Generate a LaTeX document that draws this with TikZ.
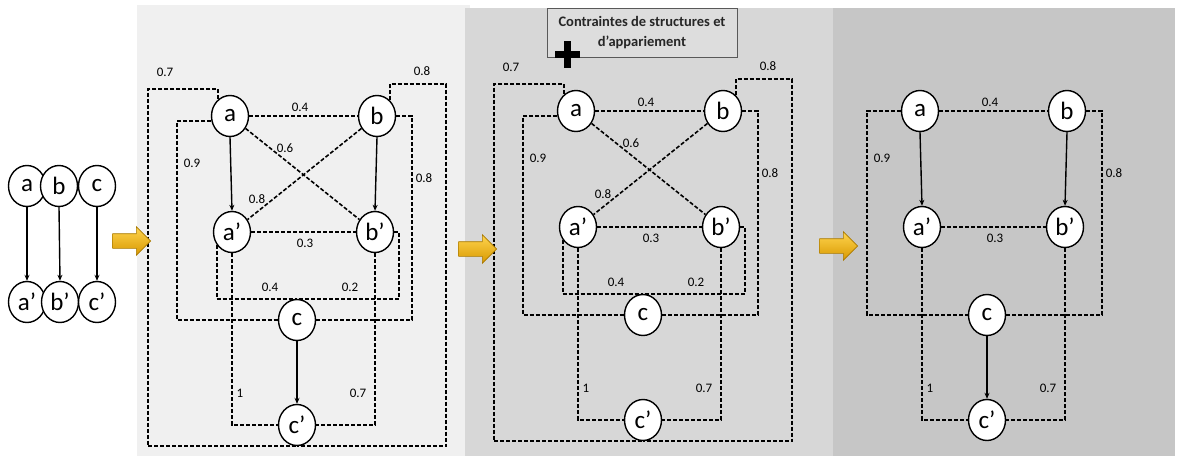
\documentclass[tikz,border=0pt]{standalone}
\usepackage{fontspec}
\setmainfont{Carlito}
\usetikzlibrary{arrows.meta,shapes.geometric,shapes.arrows}
\definecolor{bgtwo}{HTML}{F0F0F0}
\definecolor{bgthree}{HTML}{D7D7D7}
\definecolor{bgfour}{HTML}{C6C6C6}
\definecolor{hdrfill}{HTML}{DDDDDD}
\definecolor{goldtop}{HTML}{FFD54F}
\definecolor{goldbot}{HTML}{D89800}
\definecolor{goldedge}{HTML}{A87800}
\tikzset{
 vx/.style={draw=black,line width=1.4pt,fill=white,ellipse,minimum width=37pt,minimum height=41pt,inner sep=0pt,font=\fontsize{25}{25}\selectfont},
 dl/.style={draw=black,line width=1.6pt,dash pattern=on 4pt off 2pt},
 sl/.style={draw=black,line width=1.4pt,-{Stealth[length=6pt,width=5pt]}},
 lbl/.style={inner sep=0pt,font=\fontsize{13}{13}\selectfont},
 goldarrow/.style={single arrow,minimum height=38pt,minimum width=28pt,single arrow head extend=7pt,inner xsep=0pt,inner ysep=7pt,top color=goldtop,bottom color=goldbot,draw=goldedge,line width=0.6pt},
}
\newcommand\gnodes[1]{%
 \node[vx] (#1a) at (230,116) {a};
 \node[vx] (#1b) at (377,116) {b};
 \node[vx] (#1ap) at (232,232) {a’};
 \node[vx] (#1bp) at (375,232) {b’};
 \node[vx] (#1c) at (297,320) {c};
 \node[vx] (#1cp) at (297,425) {c’};
}
\newcommand\gcore[2]{%
 \draw[dl] (#1a.#2) -| (177,320) -- (#1c.west);
 \draw[dl] (#1b.east) -| (412,320) -- (#1c.east);
 \draw[dl] (#1a.east) -- (#1b.west);
 \draw[dl] (#1ap.east) -- (#1bp.west);
 \draw[dl] (#1ap.south) |- (#1cp.west);
 \draw[dl] (#1bp.south) |- (#1cp.east);
 \node[lbl] (#1lab) at (300,107) {0.4};
 \node[lbl] (#1lac) at (192,163) {0.9};
 \node[lbl] (#1lbc) at (424,178) {0.8};
 \node[lbl] (#1lapbp) at (305,243) {0.3};
 \node[lbl] (#1lapcp) at (240,393) {1};
 \node[lbl] (#1lbpcp) at (358,393) {0.7};
}
\newcommand\gfull[1]{%
 \draw[dl] (#1a.125) |- (148,89) |- (#1cp.south);
 \draw[dl] (#1b.50) |- (446,84) |- (#1cp.south);
 \draw[dl] (#1a) -- (#1bp);
 \draw[dl] (#1b) -- (#1ap);
 \draw[dl] (#1ap.220) |- (#1c.north);
 \draw[dl] (#1bp.east) -- (399,232) |- (#1c.north);
 \node[lbl] (#1lacp) at (165,72) {0.7};
 \node[lbl] (#1lbcp) at (422,71) {0.8};
 \node[lbl] (#1labp) at (285,148) {0.6};
 \node[lbl] (#1lbap) at (257,199) {0.8};
 \node[lbl] (#1lapc) at (270,287) {0.4};
 \node[lbl] (#1lbpc) at (350,287) {0.2};
}
\newcommand\garrows[1]{%
 \draw[sl] (#1a.south) -- (#1ap.north);
 \draw[sl] (#1b.south) -- (#1bp.north);
 \draw[sl] (#1c.south) -- (#1cp.north);
}
\begin{document}
\begin{tikzpicture}[x=1pt,y=-1pt]
\useasboundingbox (0,0) rectangle (1178,456);
\fill[white] (0,0) rectangle (1178,456);
\fill[bgtwo] (137,5) rectangle (470,456);
\fill[bgthree] (465,8) rectangle (833,456);
\fill[bgfour] (833,8) rectangle (1175,456);

% panel 1
\node[vx] (pa) at (27,186) {a};
\node[vx] (pb) at (59,186) {b};
\node[vx] (pc) at (97,186) {c};
\node[vx] (pap) at (27,302) {a’};
\node[vx] (pbp) at (60,302) {b’};
\node[vx] (pcp) at (97,302) {c’};
\draw[sl] (pa.south) -- (pap.north);
\draw[sl] (pb.south) -- (pbp.north);
\draw[sl] (pc.south) -- (pcp.north);

% panel 2
\gnodes{q}
\gcore{q}{195}
\gfull{q}
\garrows{q}

% panel 3
\begin{scope}[shift={(346,-5)}]
\gnodes{r}
\gcore{r}{195}
\gfull{r}
\end{scope}
\node[draw=black!65,line width=0.6pt,fill=hdrfill,minimum width=190pt,minimum height=49pt,inner sep=0pt,align=center,text=black!85,font=\bfseries\fontsize{14.5}{20}\selectfont] (hdr) at (642,32.5) {Contraintes de structures et\\d’appariement};
\draw[line width=7pt] (555,54) -- (580,54);
\draw[line width=7pt] (567,41) -- (567,68);

% panel 4
\begin{scope}[shift={(690,-5)}]
\gnodes{s}
\gcore{s}{west}
\garrows{s}
\end{scope}

% transition arrows
\node[goldarrow] (arr1) at (128,241) {};
\node[goldarrow] (arr2) at (474,249) {};
\node[goldarrow] (arr3) at (835,246) {};
\end{tikzpicture}
\end{document}
